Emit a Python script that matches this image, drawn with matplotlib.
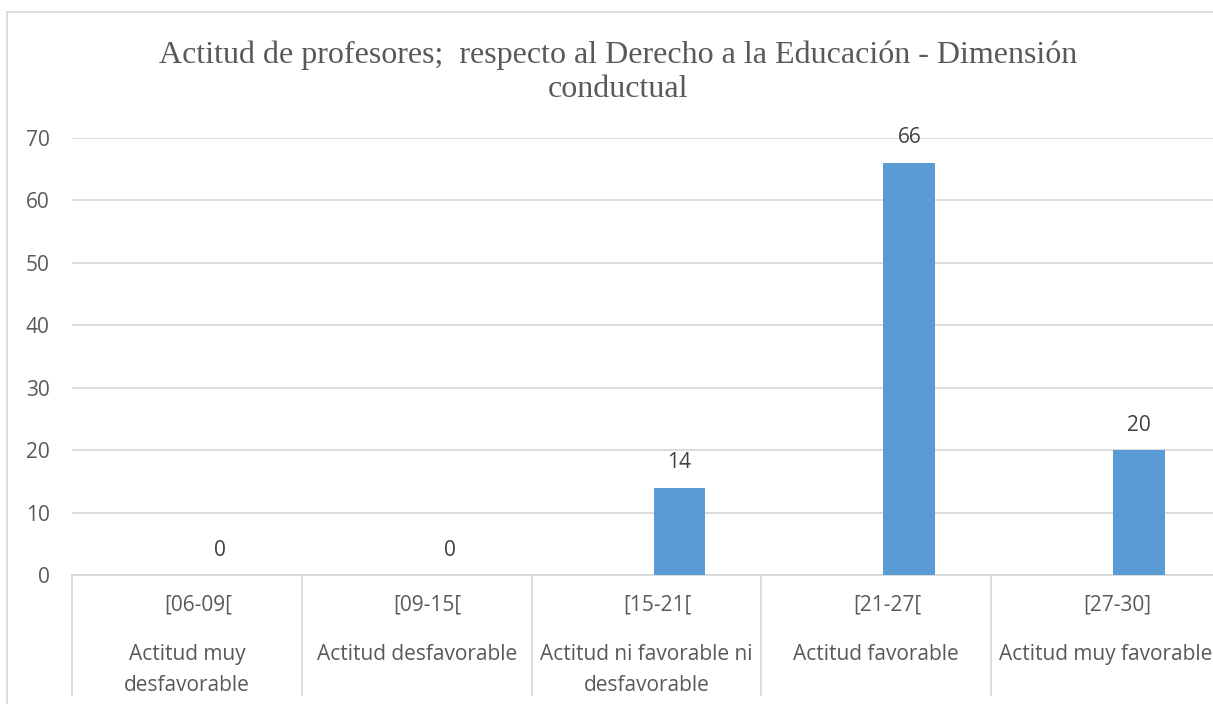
import numpy as np
import matplotlib
matplotlib.use('Agg')
import matplotlib.pyplot as plt
from matplotlib.transforms import blended_transform_factory, offset_copy
from matplotlib.lines import Line2D

title_lines = ['Actitud de profesores;  respecto al Derecho a la Educación - Dimensión',
               'conductual']
ranges = ['[06-09[', '[09-15[', '[15-21[', '[21-27[', '[27-30]']
levels = ['Actitud muy\ndesfavorable', 'Actitud desfavorable',
          'Actitud ni favorable ni\ndesfavorable', 'Actitud favorable',
          'Actitud muy favorable']
counts = [0, 0, 14, 66, 20]
yticks = [0, 10, 20, 30, 40, 50, 60, 70]

txt_c = '#595959'
grid_c = '#D9D9D9'
bar_c = '#5B9BD5'
sans = 'Open Sans'
fs = 15

W, H = 1213, 704
fig = plt.figure(figsize=(W / 100, H / 100), dpi=100)

# plot area runs past the right edge, as in the cropped original
ax = fig.add_axes([72 / W, 1 - 575 / H, (1221 - 72) / W, (575 - 138) / H])

x = np.arange(len(counts))
ax.bar(x + 0.1436, counts, width=0.226, color=bar_c, zorder=3)
for xi, v in zip(x, counts):
    ax.annotate(str(v), (xi + 0.1436, v), xytext=(0, 25), textcoords='offset pixels',
                ha='center', va='center', fontsize=fs, color='#404040', family=sans)

ax.set_xlim(-0.5, len(counts) - 0.5)
ax.set_ylim(0, 70)
ax.set_yticks(yticks)
ax.yaxis.grid(True, color=grid_c, lw=1.3, zorder=0)
ax.tick_params(axis='y', length=0, pad=16, labelsize=fs, labelcolor=txt_c)
for lab in ax.get_yticklabels():
    lab.set_family(sans)
ax.set_xticks([])
for s in ['top', 'right', 'left']:
    ax.spines[s].set_visible(False)
ax.spines['bottom'].set_color(grid_c)
ax.spines['bottom'].set_linewidth(1.3)

# two-level category axis
tr = blended_transform_factory(ax.transData, ax.transAxes)
sep_bottom = -(695 - 575) / 437
for b in np.arange(-0.5, len(counts), 1.0):
    ax.plot([b, b], [0, sep_bottom], transform=tr, color=grid_c, lw=1.3, clip_on=False)
tr_top = offset_copy(tr, fig=fig, x=11, y=-36, units='dots')
for xi, r, l in zip(x, ranges, levels):
    ax.text(xi, 0, r, transform=tr_top, ha='center', va='baseline',
            fontsize=fs, color=txt_c, family=sans)
    for j, part in enumerate(l.split('\n')):
        tr_low = offset_copy(tr, fig=fig, x=0, y=-85 - 31 * j, units='dots')
        ax.text(xi, 0, part, transform=tr_low, ha='center', va='baseline',
                fontsize=fs, color=txt_c, family=sans)

for i, line in enumerate(title_lines):
    fig.text(618 / W, 1 - (63 + 34 * i) / H, line, ha='center', va='baseline',
             fontsize=23, color=txt_c, family='Liberation Serif')

# chart frame (only top and left edges fall inside the crop)
fig.add_artist(Line2D([7 / W, 7 / W], [0, 1 - 12 / H], transform=fig.transFigure,
                      color=grid_c, lw=1.3))
fig.add_artist(Line2D([7 / W, 1], [1 - 12 / H, 1 - 12 / H], transform=fig.transFigure,
                      color=grid_c, lw=1.3))

fig.savefig('out.png', dpi=100)
